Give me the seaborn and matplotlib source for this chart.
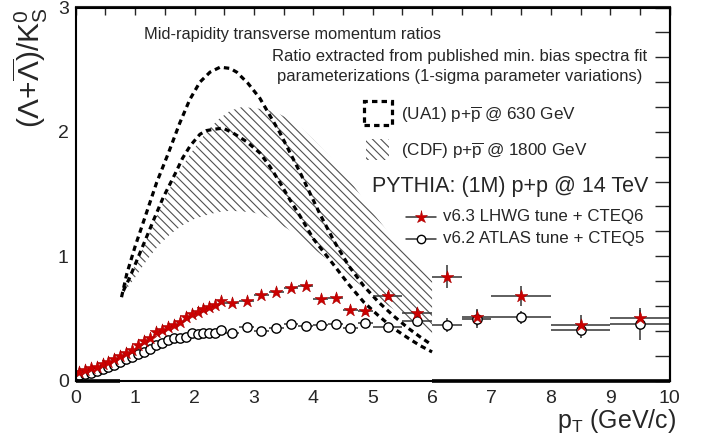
import numpy as np
import pandas as pd
import matplotlib
matplotlib.use("Agg")
import matplotlib.pyplot as plt
import seaborn as sns
from matplotlib.patches import Rectangle
from matplotlib.lines import Line2D

# ---------------- data ----------------
# UA1 ratio parameterization (upper / lower 1-sigma)
ua1_hi_x = [0.77, 0.86, 1.00, 1.17, 1.36, 1.56, 1.75, 1.92, 2.09, 2.26, 2.43, 2.60, 2.71, 2.90, 3.10,
            3.27, 3.44, 3.61, 3.78, 3.94, 4.11, 4.35, 4.60, 4.85, 5.10, 5.35, 5.60, 5.80, 6.00]
ua1_hi_y = [0.67, 0.86, 1.08, 1.32, 1.59, 1.83, 2.07, 2.26, 2.40, 2.48, 2.52, 2.51, 2.48, 2.39, 2.27,
            2.13, 1.99, 1.83, 1.67, 1.51, 1.34, 1.12, 0.92, 0.76, 0.63, 0.52, 0.42, 0.35, 0.285]
ua1_lo_x = [0.80, 0.91, 1.11, 1.31, 1.47, 1.67, 1.80, 1.93, 2.09, 2.20, 2.32, 2.48, 2.65, 2.88, 3.10,
            3.27, 3.44, 3.61, 3.78, 4.00, 4.36, 4.60, 4.85, 5.10, 5.35, 5.60, 5.80, 6.00]
ua1_lo_y = [0.72, 0.83, 1.06, 1.29, 1.47, 1.66, 1.79, 1.89, 1.98, 2.01, 2.02, 2.03, 1.99, 1.92, 1.83,
            1.72, 1.59, 1.45, 1.32, 1.14, 0.92, 0.77, 0.63, 0.52, 0.42, 0.34, 0.28, 0.23]

# CDF ratio parameterization band
cdf_x = [0.80, 1.0, 1.2, 1.4, 1.6, 1.8, 2.0, 2.2, 2.4, 2.6, 2.8, 3.0, 3.2, 3.4, 3.6, 3.8, 4.0,
         4.3, 4.6, 5.0, 5.3, 5.6, 6.0]
cdf_hi = [0.72, 0.93, 1.14, 1.36, 1.56, 1.73, 1.87, 2.00, 2.10, 2.17, 2.20, 2.19, 2.18, 2.15, 2.10,
          2.03, 1.94, 1.79, 1.62, 1.35, 1.17, 1.01, 0.80]
cdf_lo = [0.70, 0.83, 0.97, 1.09, 1.18, 1.25, 1.30, 1.33, 1.355, 1.365, 1.36, 1.35, 1.32, 1.27, 1.21,
          1.14, 1.06, 0.95, 0.84, 0.69, 0.59, 0.49, 0.37]

# zero-valued parts of the parameterization histograms (drawn on the axis)
zero_segments = [(0.0, 0.75), (6.0, 10.0)]

# PYTHIA bins
pt_centers = [0.05, 0.15, 0.25, 0.35, 0.45, 0.55, 0.65, 0.75, 0.85, 0.95,
              1.05, 1.15, 1.25, 1.35, 1.45, 1.55, 1.65, 1.75, 1.85, 1.95,
              2.05, 2.15, 2.25, 2.35, 2.45,
              2.625, 2.875, 3.125, 3.375, 3.625, 3.875, 4.125, 4.375, 4.625, 4.875,
              5.25, 5.75, 6.25, 6.75, 7.5, 8.5, 9.5]
pt_halfwidth = [0.05] * 25 + [0.125] * 10 + [0.25] * 4 + [0.5] * 3

lhwg_y = [0.071, 0.084, 0.098, 0.111, 0.130, 0.152, 0.170, 0.197, 0.219, 0.245,
          0.286, 0.320, 0.339, 0.393, 0.406, 0.433, 0.446, 0.473, 0.513, 0.535,
          0.554, 0.572, 0.594, 0.607, 0.642,
          0.621, 0.642, 0.688, 0.714, 0.741, 0.760, 0.653, 0.666, 0.566, 0.557,
          0.680, 0.545, 0.835, 0.508, 0.680, 0.446, 0.500]
lhwg_err = [0.004] * 25 + [0.012, 0.013, 0.015, 0.017, 0.019, 0.021, 0.022, 0.024, 0.026, 0.028,
                           0.030, 0.040, 0.094, 0.067, 0.080, 0.080, 0.067]

atlas_y = [0.044, 0.052, 0.063, 0.079, 0.095, 0.111, 0.127, 0.146, 0.170, 0.186,
           0.213, 0.232, 0.253, 0.286, 0.304, 0.326, 0.339, 0.345, 0.353, 0.384,
           0.374, 0.379, 0.384, 0.384, 0.406,
           0.384, 0.428, 0.401, 0.425, 0.452, 0.438, 0.446, 0.457, 0.420, 0.460,
           0.428, 0.481, 0.446, 0.495, 0.508, 0.406, 0.454]
atlas_err = [0.003] * 25 + [0.010, 0.011, 0.012, 0.013, 0.014, 0.015, 0.016, 0.017, 0.018, 0.020,
                            0.025, 0.040, 0.054, 0.070, 0.054, 0.067, 0.130]

x_ticks = [0, 1, 2, 3, 4, 5, 6, 7, 8, 9, 10]
y_ticks = [0, 1, 2, 3]

# ---------------- style ----------------
sns.set_theme(style="white")
FONT = ["Liberation Sans", "DejaVu Sans"]
plt.rcParams["font.family"] = FONT
plt.rcParams["mathtext.fontset"] = "custom"
plt.rcParams["mathtext.rm"] = "Liberation Sans"
plt.rcParams["mathtext.it"] = "Liberation Sans:italic"
plt.rcParams["mathtext.bf"] = "Liberation Sans:bold"
plt.rcParams["hatch.linewidth"] = 0.8

HATCH = "\\\\\\\\"
HATCH_COLOR = "#505050"

W, H = 706, 441
fig = plt.figure(figsize=(W / 100, H / 100), dpi=100)
L, R, T, B = 75.8, 669.6, 7.5, 380.5
ax = fig.add_axes([L / W, 1 - B / H, (R - L) / W, (B - T) / H])
ax.set_xlim(0, 10)
ax.set_ylim(0, 3)


def fx(px):
    return px / W


def fy(py):
    return 1 - py / H


# CDF hatched band
ax.fill_between(cdf_x, cdf_lo, cdf_hi, facecolor="none", edgecolor=HATCH_COLOR,
                hatch=HATCH, linewidth=0, zorder=1)

# UA1 dashed curves
df_ua1 = pd.concat([
    pd.DataFrame({"pt": ua1_hi_x, "ratio": ua1_hi_y, "curve": "hi"}),
    pd.DataFrame({"pt": ua1_lo_x, "ratio": ua1_lo_y, "curve": "lo"}),
])
sns.lineplot(data=df_ua1, x="pt", y="ratio", units="curve", estimator=None, sort=False,
             color="black", linewidth=2.3, ax=ax, zorder=2, legend=False)
for ln in ax.lines:
    ln.set_dashes((1.7, 1.3))

for x0, x1 in zero_segments:
    ax.plot([x0, x1], [0, 0], color="black", lw=2.6, solid_capstyle="butt", clip_on=False, zorder=6)

# PYTHIA points with error bars
ax.errorbar(pt_centers, lhwg_y, xerr=pt_halfwidth, yerr=lhwg_err, fmt="none",
            ecolor="#333333", elinewidth=1.1, capsize=0, zorder=3)
ax.errorbar(pt_centers, atlas_y, xerr=pt_halfwidth, yerr=atlas_err, fmt="none",
            ecolor="#333333", elinewidth=1.1, capsize=0, zorder=3)
df_pts = pd.DataFrame({"pt": pt_centers, "lhwg": lhwg_y, "atlas": atlas_y})
sns.scatterplot(data=df_pts, x="pt", y="atlas", marker="o", s=45, facecolor="white",
                edgecolor="black", linewidth=1.0, ax=ax, zorder=4, legend=False)
sns.scatterplot(data=df_pts, x="pt", y="lhwg", marker="*", s=90, color="#cc0000",
                edgecolor="#aa0000", linewidth=0.4, ax=ax, zorder=5, legend=False)

# ---------------- axes / ticks ----------------
ax.set_xlabel("")
ax.set_ylabel("")
for sp in ax.spines.values():
    sp.set_linewidth(1.5)
    sp.set_color("black")
    sp.set_zorder(7)
ax.set_xticks(x_ticks)
ax.set_xticks(np.arange(0.5, 10, 1.0), minor=True)
ax.set_yticks(y_ticks)
ax.set_yticks(np.arange(0.2, 3.0, 0.2), minor=True)
ax.tick_params(axis="both", which="both", direction="in", color="black", width=1.0,
               top=False, right=False)
ax.tick_params(axis="x", which="major", length=8.6, labelsize=14, pad=7)
ax.tick_params(axis="x", which="minor", length=4.3)
ax.tick_params(axis="y", which="major", length=11, labelsize=14, pad=5)
ax.tick_params(axis="y", which="minor", length=5)

axt = ax.secondary_xaxis("top")
axt.set_xticks(np.arange(0, 10.01, 0.5))
axt.tick_params(direction="in", length=5.5, width=1.0, labeltop=False)
axr = ax.secondary_yaxis("right")
axr.set_yticks(np.arange(0, 3.01, 0.2))
axr.tick_params(direction="in", length=10.5, width=1.0, labelright=False)
for a in (axt, axr):
    for sp in a.spines.values():
        sp.set_linewidth(1.5)

# axis titles
fig.text(fx(30), fy(7), r"$(\Lambda{+}\overline{\Lambda})/\mathrm{K}^{0}_{\mathrm{S}}$",
         rotation=90, ha="center", va="top", fontsize=21.5)
fig.text(fx(676), fy(421), r"p$_{\mathrm{T}}$ (GeV/c)", ha="right", va="center", fontsize=18)

# annotations
fig.text(fx(144), fy(35), "Mid-rapidity transverse momentum ratios", ha="left", va="center",
         fontsize=11.8)
fig.text(fx(272), fy(57), "Ratio extracted from published min. bias spectra fit", ha="left",
         va="center", fontsize=12)
fig.text(fx(277), fy(77), "parameterizations (1-sigma parameter variations)", ha="left",
         va="center", fontsize=12)

# UA1 legend icon: dashed box
fig.patches.append(Rectangle((fx(364), fy(125)), (392 - 364) / W, (125 - 101) / H,
                             transform=fig.transFigure, facecolor="none", edgecolor="black",
                             lw=2.3, ls=(0, (1.7, 1.3)), figure=fig))
fig.text(fx(401), fy(115), r"(UA1) p+$\overline{\mathrm{p}}$ @ 630 GeV", ha="left", va="center",
         fontsize=12.3)
# CDF legend icon: hatch
fig.patches.append(Rectangle((fx(366), fy(160)), (389 - 366) / W, (160 - 139) / H,
                             transform=fig.transFigure, facecolor="none", edgecolor=HATCH_COLOR,
                             hatch=HATCH, lw=0, figure=fig))
fig.text(fx(401), fy(151), r"(CDF) p+$\overline{\mathrm{p}}$ @ 1800 GeV", ha="left", va="center",
         fontsize=12.3)

fig.text(fx(372), fy(187), "PYTHIA: (1M) p+p @ 14 TeV", ha="left", va="center", fontsize=15.5)

# PYTHIA legend
fig.lines.append(Line2D([fx(406), fx(436)], [fy(216.5), fy(216.5)], transform=fig.transFigure,
                        color="#333333", lw=1.1, figure=fig))
fig.lines.append(Line2D([fx(421)], [fy(216.5)], transform=fig.transFigure, marker="*", ms=9.5,
                        mfc="#cc0000", mec="#aa0000", mew=0.4, ls="none", figure=fig))
fig.text(fx(443), fy(216.5), "v6.3 LHWG tune + CTEQ6", ha="left", va="center", fontsize=12.2)
fig.lines.append(Line2D([fx(406), fx(436)], [fy(239), fy(239)], transform=fig.transFigure,
                        color="#333333", lw=1.1, figure=fig))
fig.lines.append(Line2D([fx(421)], [fy(239)], transform=fig.transFigure, marker="o", ms=6.0,
                        mfc="white", mec="black", mew=1.0, ls="none", figure=fig))
fig.text(fx(443), fy(239), "v6.2 ATLAS tune + CTEQ5", ha="left", va="center", fontsize=12.2)

fig.savefig("out.png", dpi=100)
